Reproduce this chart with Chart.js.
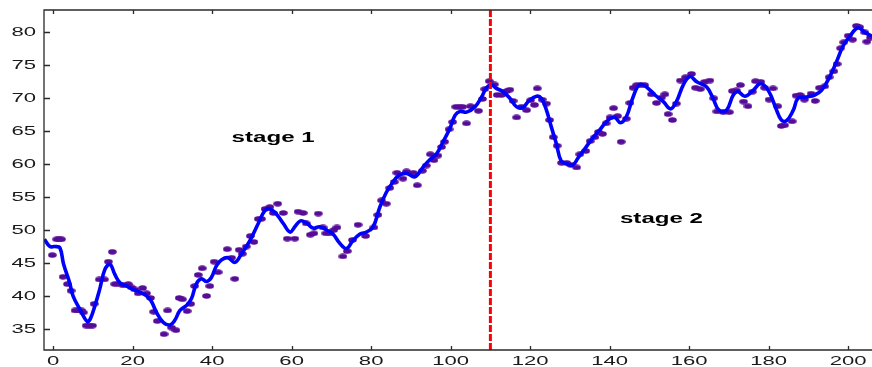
<!DOCTYPE html>
<html>
<head>
<script src="https://cdn.jsdelivr.net/npm/chart.js@4.4.1/dist/chart.umd.min.js"></script>
<style>
  body { margin:0; background:#fff; }
</style>
</head>
<body>
<canvas id="stageChart" width="872" height="367"></canvas>

<script>
// purple dots (raw values)
var dotX = [-0.2,0.9,1.5,2.1,2.5,3.6,4.5,5.5,6.3,7.1,7.6,8.3,9.1,9.9,10.3,11.6,12.9,13.9,14.9,15.5,
  16.4,17.6,18.9,19.7,20.5,21.4,22.5,23.5,24.5,25.3,26.2,27.9,28.8,29.8,30.9,31.7,32.5,33.7,34.6,35.6,
  36.5,37.5,38.6,39.4,40.5,41.5,43.8,44.9,45.7,46.8,47.6,48.6,49.6,50.5,51.6,52.4,53.3,54.5,55.4,56.5,
  57.9,58.9,60.8,61.6,62.9,63.7,64.7,65.6,66.7,67.9,68.6,69.6,70.6,71.4,72.9,74.0,75.3,76.7,78.6,80.7,
  81.7,82.6,83.8,84.7,85.8,86.5,88.0,88.9,90.6,91.6,92.9,93.9,94.9,95.8,96.8,97.7,98.5,99.6,100.5,101.3,
  102.2,103.0,104.0,105.0,107.0,108.0,108.6,109.7,111.0,111.7,112.8,114.1,114.9,115.7,116.6,117.8,119.1,120.1,121.1,121.8,
  123.0,124.1,124.9,125.8,126.8,127.9,129.2,130.2,131.7,132.5,134.0,135.1,136.3,137.2,138.2,139.1,140.1,141.0,142.0,142.9,
  144.2,145.1,145.9,146.8,147.8,148.8,150.5,151.8,153.0,153.9,154.7,155.8,156.8,157.8,159.1,160.6,161.6,162.8,163.9,165.2,
  166.2,167.0,168.6,170.1,170.9,171.9,172.9,173.7,174.8,175.9,176.7,178.0,179.0,180.1,181.1,182.3,183.2,184.0,185.9,186.9,
  187.9,189.0,190.7,191.7,192.8,194.1,195.2,196.4,197.2,198.1,198.9,200.0,201.1,202.1,202.9,204.2,204.7,205.6];
var dotY = [46.2,48.6,48.6,48.6,42.9,41.8,40.8,37.8,37.8,37.8,37.5,35.5,35.5,35.5,38.8,42.5,42.5,45.2,46.7,41.8,
  41.8,41.6,41.8,41.3,41.0,40.4,41.2,40.4,39.7,37.6,36.2,34.2,37.8,35.2,34.8,39.7,39.5,37.7,38.8,41.5,
  43.2,44.2,40.0,41.5,45.2,43.6,47.1,45.8,42.6,47.0,46.4,47.5,49.1,48.2,51.7,51.7,53.2,53.5,52.6,54.0,
  52.6,48.7,48.7,52.8,52.6,51.0,49.3,49.5,52.5,50.4,49.5,49.5,50.0,50.4,46.0,46.8,48.5,50.8,49.1,50.4,
  52.3,54.5,54.0,56.4,57.3,58.7,57.8,58.9,58.7,56.8,59.0,59.8,61.5,60.6,61.3,62.6,63.4,65.3,66.4,68.7,
  68.7,68.7,66.2,68.8,68.1,69.9,71.4,72.6,72.1,70.5,70.5,71.1,71.3,69.6,67.1,68.7,68.2,69.7,69.0,71.5,
  69.8,69.2,66.7,64.1,62.8,60.2,60.2,59.9,59.5,61.5,62.0,63.5,64.1,64.9,64.6,66.2,67.1,68.5,67.3,63.4,
  66.9,69.3,71.6,72.0,72.0,72.0,70.6,69.3,70.1,70.6,67.6,66.7,69.2,72.7,73.2,73.7,71.6,71.4,72.5,72.7,
  70.0,68.0,67.9,67.9,71.1,71.2,72.0,69.5,68.8,71.0,72.6,72.5,71.6,69.8,71.5,68.8,65.8,65.9,66.5,70.4,
  70.5,69.8,70.7,69.6,71.6,71.8,73.2,74.1,75.2,77.6,78.5,79.5,78.9,81.0,80.8,80.0,78.6,79.2];

// blue smoothed curve
var lineX = [-2.2,-0.8,0.4,1.7,2.6,4.2,5.0,6.7,8.6,9.4,10.5,11.7,13.0,14.3,15.5,16.8,18.5,20.1,21.8,23.5,
  24.7,26.0,27.7,29.4,30.6,31.9,33.6,34.8,36.0,37.3,38.6,39.8,41.1,42.4,44.0,45.7,47.4,49.5,51.6,53.3,
  54.5,56.2,57.9,59.6,60.8,62.2,63.7,65.4,67.1,68.8,70.4,72.1,73.8,75.3,77.2,78.8,80.5,82.2,83.8,85.5,
  87.0,88.9,91.0,93.1,94.8,96.5,98.1,99.8,101.1,102.3,104.0,106.1,107.8,109.0,110.3,111.5,113.2,114.9,116.6,118.2,
  119.5,121.6,122.8,124.1,125.3,126.6,127.8,129.5,130.8,132.0,133.7,135.4,137.5,139.6,141.3,142.7,144.2,145.9,147.6,149.7,
  151.4,153.5,155.3,156.8,158.5,160.2,161.9,164.4,166.0,167.5,169.4,171.1,172.3,174.0,176.1,177.9,179.9,182.0,183.2,184.5,
  186.2,187.4,189.5,191.6,193.3,195.4,197.1,198.7,200.4,202.5,204.2,206.0];
var lineY = [48.6,47.5,47.5,47.3,44.9,41.9,40.0,38.0,36.1,36.6,38.5,41.0,44.0,44.8,43.3,42.0,41.5,41.0,40.6,40.0,
  39.2,37.5,36.0,35.6,36.3,37.8,38.6,39.6,41.8,42.6,42.2,42.8,44.6,45.5,45.8,45.1,46.4,48.4,51.0,53.0,
  53.2,52.4,51.0,49.7,50.5,51.4,51.1,50.3,50.5,50.0,49.4,48.0,47.2,48.3,49.4,49.7,50.5,53.5,55.7,57.3,
  58.3,58.6,58.1,59.6,60.7,61.6,63.4,65.4,67.4,68.0,67.9,68.7,70.2,71.6,72.0,71.5,71.0,70.0,68.7,68.6,
  69.5,70.3,70.0,68.2,65.7,63.1,60.5,60.0,59.9,60.9,62.3,63.7,65.2,66.7,67.1,66.3,67.2,70.2,72.1,71.5,
  70.5,69.5,68.4,69.5,72.0,73.3,72.5,71.7,70.0,68.2,68.2,70.5,71.0,70.3,71.2,72.2,71.2,68.2,66.7,66.6,
  68.2,70.0,70.2,70.5,71.2,73.3,75.6,77.9,79.4,80.7,80.0,79.4];

// stage split
var splitX = [110, 110];
var splitY = [31.8, 83.4];

var xTicks = [0, 20, 40, 60, 80, 100, 120, 140, 160, 180, 200];
var yTicks = [35, 40, 45, 50, 55, 60, 65, 70, 75, 80];

var stageLabels = ['stage 1', 'stage 2'];
var stageX = [44.9, 142.6];
var stageY = [63.4, 51.1];

function pairs(xs, ys) {
  var out = [];
  for (var i = 0; i < xs.length; i++) out.push({x: xs[i], y: ys[i]});
  return out;
}

// little horizontal ellipse used as marker
var dotImg = document.createElement('canvas');
dotImg.width = 9; dotImg.height = 6;
var dctx = dotImg.getContext('2d');
dctx.fillStyle = '#560c96';
dctx.beginPath();
dctx.ellipse(4.5, 3, 4.3, 2.7, 0, 0, Math.PI * 2);
dctx.fill();

// frame, inward ticks, stretched labels and the stage texts
var framePlugin = {
  id: 'frame',
  afterDraw: function(chart) {
    var ctx = chart.ctx, a = chart.chartArea;
    var xs = chart.scales.x, ys = chart.scales.y;
    ctx.save();
    ctx.strokeStyle = '#2a2a2a';
    ctx.lineWidth = 1.3;
    ctx.beginPath();
    ctx.moveTo(a.right, a.top); ctx.lineTo(a.left, a.top);
    ctx.lineTo(a.left, a.bottom); ctx.lineTo(a.right, a.bottom);
    ctx.stroke();

    ctx.beginPath();
    xTicks.forEach(function(v) {
      var px = Math.round(xs.getPixelForValue(v)) + 0.5;
      ctx.moveTo(px, a.bottom); ctx.lineTo(px, a.bottom - 4);
      ctx.moveTo(px, a.top); ctx.lineTo(px, a.top + 4);
    });
    yTicks.forEach(function(v) {
      var py = Math.round(ys.getPixelForValue(v)) + 0.5;
      ctx.moveTo(a.left, py); ctx.lineTo(a.left + 6, py);
    });
    ctx.stroke();

    ctx.fillStyle = '#1a1a1a';
    ctx.font = '13px "Liberation Sans", Arial, sans-serif';
    ctx.textBaseline = 'middle';
    ctx.textAlign = 'right';
    yTicks.forEach(function(v) {
      ctx.save();
      ctx.translate(a.left - 8, ys.getPixelForValue(v) + 0.5);
      ctx.scale(1.7, 1);
      ctx.fillText(String(v), 0, 0);
      ctx.restore();
    });
    ctx.textAlign = 'center';
    ctx.textBaseline = 'alphabetic';
    xTicks.forEach(function(v) {
      ctx.save();
      ctx.translate(xs.getPixelForValue(v), a.bottom + 15);
      ctx.scale(1.7, 1);
      ctx.fillText(String(v), 0, 0);
      ctx.restore();
    });

    ctx.fillStyle = '#000';
    ctx.font = 'bold 14px "Liberation Sans", Arial, sans-serif';
    ctx.textAlign = 'left';
    for (var i = 0; i < stageLabels.length; i++) {
      ctx.save();
      ctx.translate(xs.getPixelForValue(stageX[i]), ys.getPixelForValue(stageY[i]));
      ctx.scale(1.72, 1);
      ctx.fillText(stageLabels[i], 0, 0);
      ctx.restore();
    }
    ctx.restore();
  }
};

var chart = new Chart(document.getElementById('stageChart').getContext('2d'), {
  type: 'scatter',
  data: {
    datasets: [{
      label: 'split',
      data: pairs(splitX, splitY),
      showLine: true,
      borderColor: '#ff0000',
      borderWidth: 3,
      borderDash: [7, 2],
      pointRadius: 0,
      order: 0
    }, {
      label: 'smooth',
      data: pairs(lineX, lineY),
      showLine: true,
      borderColor: '#0000ff',
      borderWidth: 3.6,
      tension: 0.4,
      pointRadius: 0,
      order: 1
    }, {
      label: 'raw',
      data: pairs(dotX, dotY),
      pointStyle: dotImg,
      pointRadius: 3,
      order: 2
    }]
  },
  options: {
    responsive: false,
    animation: false,
    devicePixelRatio: 1,
    layout: { autoPadding: false, padding: { top: 10, right: 0, left: 0, bottom: 0 } },
    plugins: { legend: { display: false }, tooltip: { enabled: false } },
    scales: {
      x: {
        type: 'linear', min: -2.3, max: 206,
        grid: { display: false }, border: { display: false },
        ticks: { display: false },
        afterFit: function(s) { s.height = 17; }
      },
      y: {
        type: 'linear', min: 31.8, max: 83.4,
        grid: { display: false }, border: { display: false },
        ticks: { display: false },
        afterFit: function(s) { s.width = 44; }
      }
    }
  },
  plugins: [framePlugin]
});
</script>
</body>
</html>
